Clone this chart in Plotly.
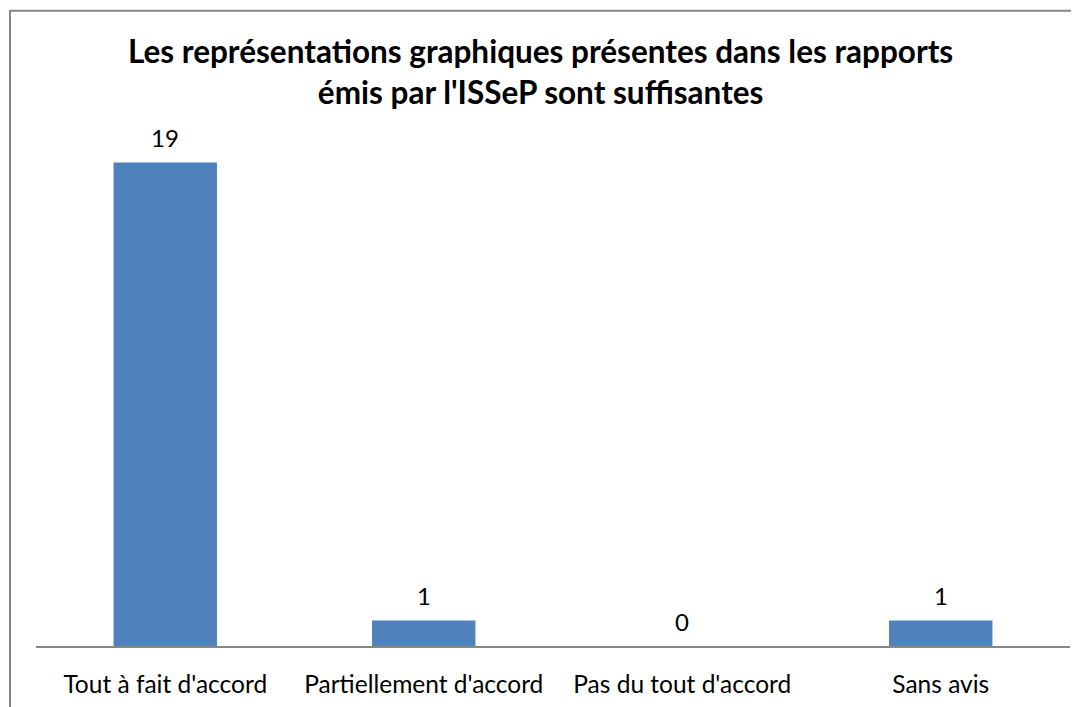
import plotly.graph_objects as go

categories = ["Tout à fait d'accord", "Partiellement d'accord", "Pas du tout d'accord", "Sans avis"]
values = [19, 1, 0, 1]
title_lines = ["Les représentations graphiques présentes dans les rapports",
               "émis par l'ISSeP sont suffisantes"]

# page has an 8px body margin; figure coordinates = page coordinates - 8
OFF = 8
W, H = 1079 - OFF, 707 - OFF
PX0, PX1, PY0, PY1 = 36 - OFF, 1070 - OFF, 137 - OFF, 649 - OFF
L, R, T, B = PX0, W - PX1, PY0, H - PY1
PW, PH = PX1 - PX0, PY1 - PY0


def xp(px):
    return (px - OFF - PX0) / PW


def yp(py):
    return (PY1 - (py - OFF)) / PH


FONT = "Lato"

fig = go.Figure(go.Bar(
    x=categories, y=values,
    marker=dict(color="#4F81BD", line=dict(width=0)),
    width=0.4,
    cliponaxis=False,
))

annotations = [dict(
    text="<b>" + "<br>".join(title_lines) + "</b>",
    xref="paper", yref="paper",
    x=xp(1079 / 2 + 0.5), y=yp(71),
    xanchor="center", yanchor="middle", showarrow=False,
    font=dict(family=FONT, size=31.5, color="#000000"),
)]

# data labels above each bar
for c, v in zip(categories, values):
    annotations.append(dict(
        text=str(v), x=c, y=v, xref="x", yref="y",
        xanchor="center", yanchor="middle", yshift=25, showarrow=False,
        font=dict(family=FONT, size=24, color="#000000"),
    ))

fig.update_layout(
    width=W, height=H,
    margin=dict(l=L, r=R, t=T, b=B),
    paper_bgcolor="white", plot_bgcolor="white",
    showlegend=False,
    font=dict(family=FONT, size=24, color="#000000"),
    xaxis=dict(
        showline=True, linecolor="#878787", linewidth=2,
        showgrid=False, ticks="", ticklabelstandoff=16,
        tickfont=dict(family=FONT, size=24.5, color="#000000"),
        range=[-0.5, 3.5],
    ),
    yaxis=dict(range=[0, 20], visible=False, showgrid=False),
    annotations=annotations,
    shapes=[dict(
        type="rect", xref="paper", yref="paper",
        x0=xp(10), x1=xp(1100),
        y0=yp(730), y1=yp(10),
        line=dict(color="#878787", width=2), fillcolor="rgba(0,0,0,0)",
        layer="above",
    )],
)

fig.write_html("out.html")
